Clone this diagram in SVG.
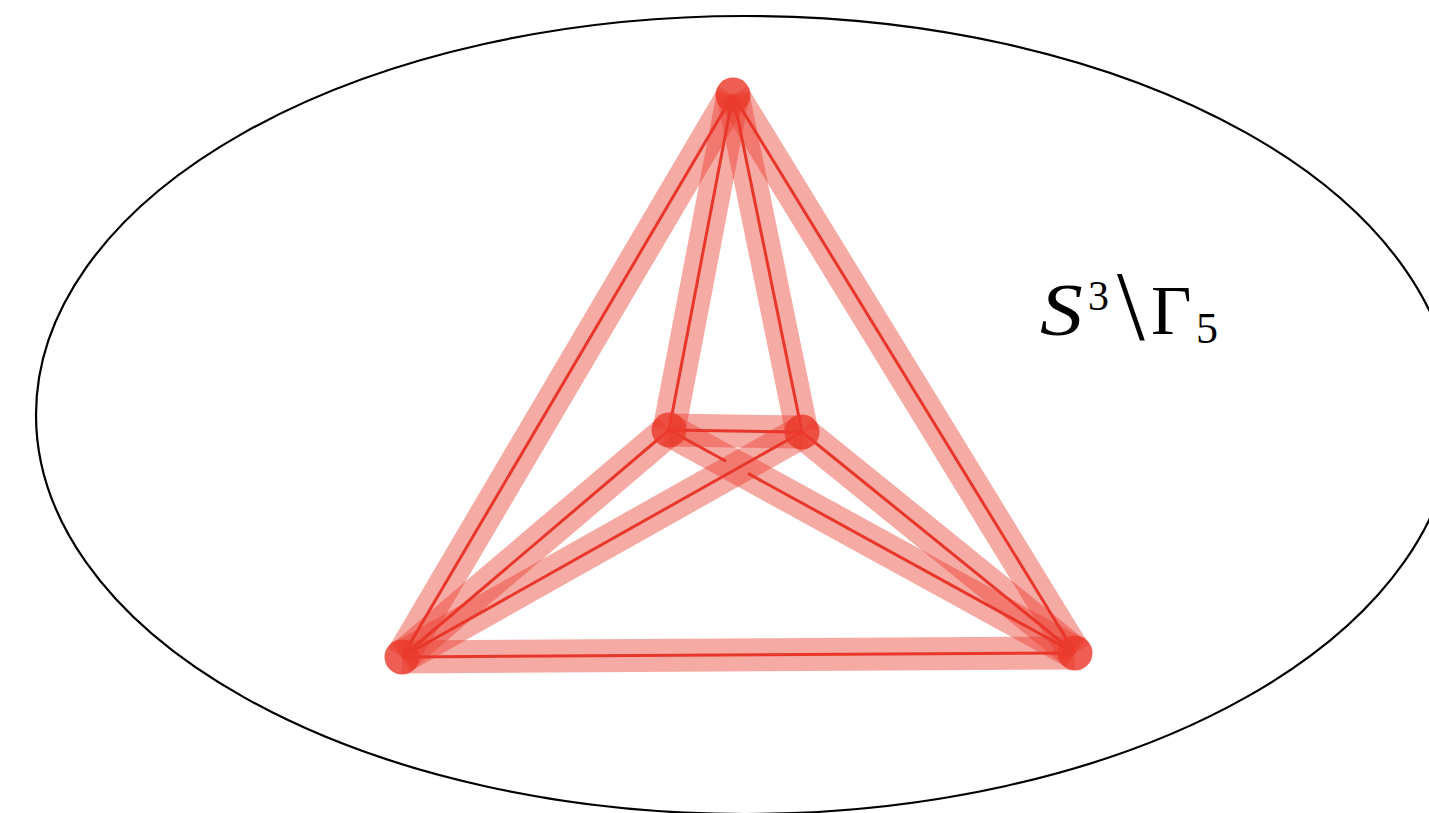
<svg xmlns="http://www.w3.org/2000/svg" width="1429" height="813" viewBox="0 0 1429 813">
<style>
.band{stroke:#ea3b2c;stroke-opacity:0.43;stroke-width:33;fill:none;stroke-linecap:butt}
.thin{stroke:#e8372a;stroke-width:3;fill:none;stroke-linecap:butt}
.node{fill:#ea3b2c;fill-opacity:0.82}
.lbl{font-family:"Liberation Serif","DejaVu Serif",serif;fill:#000}
</style>
<rect width="1429" height="813" fill="#fff"/>
<ellipse cx="745" cy="415" rx="709" ry="399" fill="none" stroke="#000" stroke-width="2.2"/>
<g id="connectors">
<line class="band" x1="733" y1="95" x2="402" y2="657"/>
<line class="band" x1="733" y1="95" x2="1075" y2="653"/>
<line class="band" x1="733" y1="95" x2="669" y2="430"/>
<line class="band" x1="733" y1="95" x2="802" y2="432"/>
<line class="band" x1="402" y1="657" x2="1075" y2="653"/>
<line class="band" x1="669" y1="430" x2="802" y2="432"/>
<line class="band" x1="669" y1="430" x2="402" y2="657"/>
<line class="band" x1="802" y1="432" x2="402" y2="657"/>
<line class="band" x1="669" y1="430" x2="1075" y2="653"/>
<line class="band" x1="802" y1="432" x2="1075" y2="653"/>
<line class="thin" x1="733" y1="95" x2="402" y2="657"/>
<line class="thin" x1="733" y1="95" x2="1075" y2="653"/>
<line class="thin" x1="733" y1="95" x2="669" y2="430"/>
<line class="thin" x1="733" y1="95" x2="802" y2="432"/>
<line class="thin" x1="402" y1="657" x2="1075" y2="653"/>
<line class="thin" x1="669" y1="430" x2="802" y2="432"/>
<line class="thin" x1="669" y1="430" x2="402" y2="657"/>
<line class="thin" x1="802" y1="432" x2="402" y2="657"/>
<line class="thin" x1="669" y1="430" x2="726" y2="461.3"/>
<line class="thin" x1="748" y1="473.4" x2="1075" y2="653"/>
<line class="thin" x1="802" y1="432" x2="1075" y2="653"/>
</g>
<g id="node-top"><circle class="node" cx="733" cy="95" r="17.5"/></g>
<g id="node-inner-left"><circle class="node" cx="669" cy="430" r="17.5"/></g>
<g id="node-inner-right"><circle class="node" cx="802" cy="432" r="17.5"/></g>
<g id="node-bottom-left"><circle class="node" cx="402" cy="657" r="17.5"/></g>
<g id="node-bottom-right"><circle class="node" cx="1075" cy="653" r="17.5"/></g>
<g id="label">
<text class="lbl" font-size="75" font-style="italic" transform="translate(1040,335) scale(1.14,1)">S</text>
<text class="lbl" x="1088" y="310" font-size="42">3</text>
<text class="lbl" x="1117" y="339" font-size="100">\</text>
<text class="lbl" x="1151" y="334" font-size="70">Γ</text>
<text class="lbl" x="1196" y="343" font-size="44">5</text>
</g>
</svg>
